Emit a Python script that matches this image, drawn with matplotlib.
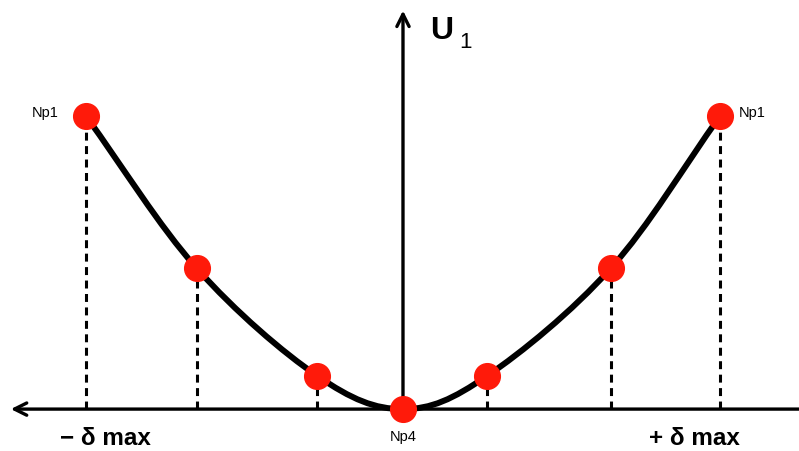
import matplotlib
matplotlib.use("Agg")
import matplotlib.pyplot as plt
from matplotlib.path import Path
from matplotlib.patches import PathPatch

plt.rcParams['font.family'] = ['Liberation Sans', 'DejaVu Sans']

# node positions (x in units of delta max, y in units of U1 at Np1)
node_x = [-1.0, -0.65, -0.27, 0.0, 0.265, 0.655, 1.0]
node_y = [1.0, 0.48, 0.113, 0.0, 0.113, 0.48, 1.0]
node_labels = ['Np1', '', '', 'Np4', '', '', 'Np1']

fig = plt.figure(figsize=(7.99, 4.51), dpi=100)
ax = fig.add_axes([0, 0, 1, 1])
ax.set_xlim(-1.271, 1.249)
ax.set_ylim(-0.143, 1.396)
ax.axis('off')

# dashed drop lines
for x, y in zip(node_x, node_y):
    if y > 0:
        ax.plot([x, x], [0, y], color='black', lw=2.2, ls=(0, (2.6, 1.8)), zorder=1)

# axes arrows
ax.annotate('', xy=(-1.237, 0), xytext=(1.26, 0),
            arrowprops=dict(arrowstyle='->', lw=2.4, color='black',
                            mutation_scale=22, shrinkA=0, shrinkB=0), zorder=2)
ax.annotate('', xy=(0, 1.36), xytext=(0, 0),
            arrowprops=dict(arrowstyle='->', lw=2.4, color='black',
                            mutation_scale=22, shrinkA=0, shrinkB=0), zorder=2)

# smooth curve through the nodes (catmull-rom -> cubic bezier)
pts = list(zip(node_x, node_y))
ext = [(2 * pts[0][0] - pts[1][0], 2 * pts[0][1] - pts[1][1])] + pts + \
      [(2 * pts[-1][0] - pts[-2][0], 2 * pts[-1][1] - pts[-2][1])]
verts = [pts[0]]
codes = [Path.MOVETO]
for i in range(1, len(ext) - 2):
    p0, p1, p2, p3 = ext[i - 1], ext[i], ext[i + 1], ext[i + 2]
    c1 = (p1[0] + (p2[0] - p0[0]) / 6, p1[1] + (p2[1] - p0[1]) / 6)
    c2 = (p2[0] - (p3[0] - p1[0]) / 6, p2[1] - (p3[1] - p1[1]) / 6)
    verts += [c1, c2, p2]
    codes += [Path.CURVE4] * 3
ax.add_patch(PathPatch(Path(verts, codes), fill=False, edgecolor='black',
                       lw=4.3, capstyle='round', joinstyle='round', zorder=3))

ax.plot(node_x, node_y, 'o', color='#ff1a0a', markersize=18.5, zorder=4)

# labels
ax.text(0.085, 1.29, 'U', fontsize=23, fontweight='bold', ha='left', va='center')
ax.text(0.178, 1.25, '1', fontsize=16, ha='left', va='center')
for x, y, lab in zip(node_x, node_y, node_labels):
    if lab and x < 0:
        ax.text(x - 0.085, y + 0.01, lab, fontsize=10.5, ha='right', va='center')
    elif lab and x > 0:
        ax.text(x + 0.06, y + 0.01, lab, fontsize=10.5, ha='left', va='center')
    elif lab:
        ax.text(x, y - 0.095, lab, fontsize=10.5, ha='center', va='center')
ax.text(-0.94, -0.1, '\u2212 \u03b4 max', fontsize=17.5, fontweight='bold',
        ha='center', va='center')
ax.text(0.92, -0.1, '+ \u03b4 max', fontsize=17.5, fontweight='bold',
        ha='center', va='center')

fig.savefig('out.png', dpi=100)
